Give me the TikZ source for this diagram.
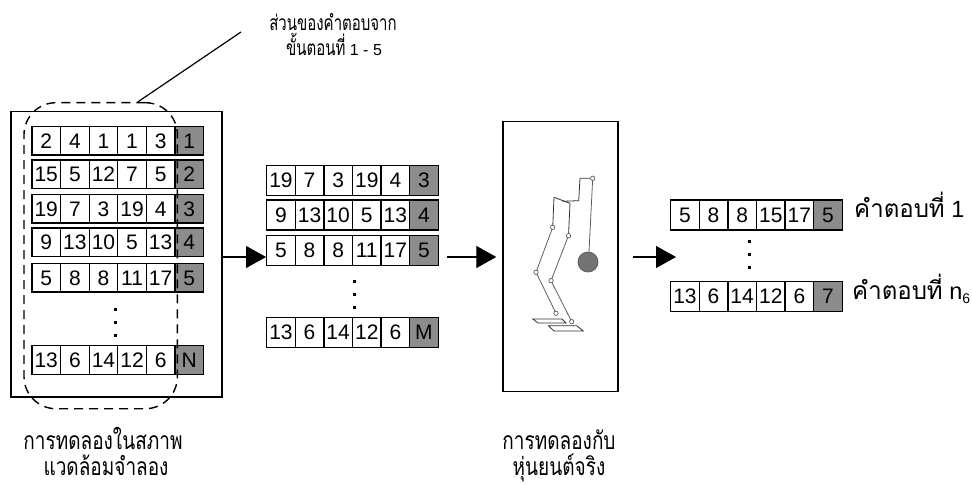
\documentclass[tikz,border=0pt]{standalone}
\usepackage{graphicx}
\usepackage{fontspec}
\setmainfont{Liberation Sans}
\newfontfamily\thai[Script=Thai]{Loma}
\usetikzlibrary{arrows.meta}
\definecolor{slotgray}{RGB}{140,140,140}
\definecolor{linkgray}{RGB}{95,95,95}

% one chromosome: five white genes and a gray fitness slot
% #1 name, #2 left x, #3 top y, #4 row height, #5 genes, #6 last slot
\newcommand\genome[6]{%
  \foreach \v [count=\k] in {#5} {
    \node[cell, minimum height=#4] (#1-\k) at ({#2+(\k-1)*28.6}, #3) {\v};
  }
  \node[cell, fill=slotgray, minimum height=#4] (#1-6) at ({#2+5*28.6}, #3) {#6};
}
% three stacked dots for omitted rows
\newcommand\gapdots[2]{%
  \foreach \d in {0,12.9,25.8} { \fill ({#1-1.5},{#2+\d-1.5}) rectangle ++(3,3); }
}
% Thai text: size, vertical stretch, text
\newcommand\thaiset[3]{\scalebox{1}[#2]{\fontsize{#1}{#1}\selectfont\thai #3}}

\begin{document}
\begin{tikzpicture}[x=1pt,y=-1pt,
  cell/.style={draw, line width=1.3pt, minimum width=28.6pt, inner sep=0pt,
    anchor=north west, fill=white, font=\fontsize{21}{21}\selectfont},
  frame/.style={draw, line width=1.5pt, inner sep=0pt},
  bigarrow/.style={line width=1.2pt, -{Triangle[length=20pt,width=22pt]}},
  label/.style={inner sep=0pt, anchor=base},
  link/.style={draw=linkgray, line width=0.8pt},
  joint/.style={draw=linkgray, line width=0.7pt, fill=white}]
\useasboundingbox (0,0) rectangle (972,486);

% simulation pool
\node[frame, minimum width=211pt, minimum height=285pt, anchor=north west] (sim) at (10,111) {};
\genome{s1}{31.3}{126}{28.5pt}{2,4,1,1,3}{1}
\genome{s2}{31.3}{159.5}{28.5pt}{15,5,12,7,5}{2}
\genome{s3}{31.3}{194}{28.5pt}{19,7,3,19,4}{3}
\genome{s4}{31.3}{227.5}{28.5pt}{9,13,10,5,13}{4}
\genome{s5}{31.3}{263}{28.5pt}{5,8,8,11,17}{5}
\gapdots{115}{310}
\genome{sN}{31.3}{345}{28.5pt}{13,6,14,12,6}{N}

% subset taken from steps 1-5
\node[draw, line width=1.4pt, rounded corners=32pt, dash pattern=on 9pt off 6pt,
  minimum width=153.4pt, minimum height=306pt, anchor=north west] (part) at (23.3,102) {};
\coordinate (lead) at (241,32);
\draw[line width=1.2pt] ([xshift=37pt]part.north) -- (lead);
\node[label] (partlabel1) at (333,31) {\thaiset{15}{1.4}{ส่วนของคำตอบจาก}};
\node[label] (partlabel2) at (334,56)
  {\thaiset{15}{1.4}{ขั้นตอนที่}{\fontsize{16}{16}\selectfont\ 1 - 5}};

% selected chromosomes
\genome{m1}{266}{165}{30pt}{19,7,3,19,4}{3}
\genome{m2}{266}{199.5}{30pt}{9,13,10,5,13}{4}
\genome{m3}{266}{235}{30pt}{5,8,8,11,17}{5}
\gapdots{354.3}{281.7}
\genome{mM}{266}{316.7}{30pt}{13,6,14,12,6}{M}

% real robot test
\node[frame, minimum width=115pt, minimum height=269.5pt, anchor=north west] (robot) at (502.3,121) {};
\begin{scope}
  % pendulum
  \draw[link] (592.7,178.3) -- (589,252);
  \draw[draw=linkgray, line width=0.8pt, fill=black!55] (588,262) circle (10);
  % body
  \draw[link, draw=black!80] (592.7,178.3) -- (580,178.3) -- (578.7,200.7) -- (562.3,201.3);
  \draw[link, draw=black!80] (554,197.3) -- (570,203.3) -- (568.5,235.7);
  \draw[link, draw=black!80] (554,197.3) -- (552.7,227.3);
  % legs
  \draw[link] (552.7,227.3) -- (536,272.3) -- (556,313.3);
  \draw[link] (568.5,235.7) -- (551,280.7) -- (571.7,321.7);
  % feet
  \draw[link, draw=black!80] (532.7,319) -- (562,319) -- (566,323) -- (538,323) -- cycle;
  \draw[link, draw=black!80] (548.3,325.7) -- (576.7,325.7) -- (583.3,331) -- (554,331) -- cycle;
  \foreach \p in {(592.7,178.3),(552.7,227.3),(568.5,235.7),(536,272.3),(551,280.7),(556,313.3),(571.7,321.7)}
    \draw[joint] \p circle (2.2);
\end{scope}

% resulting gaits
\genome{r1}{670}{199.5}{30pt}{5,8,8,15,17}{5}
\gapdots{749}{241.7}
\genome{rn}{670}{280.7}{30pt}{13,6,14,12,6}{7}
\node[label, anchor=base west] (ans1) at (854,218)
  {\thaiset{24}{1.03}{คำตอบที่}{\fontsize{23.5}{23.5}\selectfont\ 1}};
\node[label, anchor=base west] (ansn) at (852,300)
  {\thaiset{24}{1.03}{คำตอบที่}{\fontsize{23.5}{23.5}\selectfont\ n\raisebox{-0.25ex}{\fontsize{14}{14}\selectfont 6}}};

% flow arrows
\coordinate (ay) at (0,257);
\draw[bigarrow] (sim.east |- ay) -- (m3-1.west |- ay);
\draw[bigarrow, shorten <=8pt, shorten >=6pt] (m3-6.east |- ay) -- (robot.west |- ay);
\draw[bigarrow, shorten <=14pt, shorten >=-6pt] (robot.east |- ay) -- (r1-1.west |- ay);

% captions
\node[label] (simcap1) at (103,449) {\thaiset{19}{1.3}{การทดลองในสภาพ}};
\node[label] (simcap2) at (106,475) {\thaiset{19}{1.3}{แวดล้อมจำลอง}};
\node[label] (robcap1) at (559,449) {\thaiset{19}{1.3}{การทดลองกับ}};
\node[label] (robcap2) at (559,475) {\thaiset{19}{1.3}{หุ่นยนต์จริง}};
\end{tikzpicture}
\end{document}
